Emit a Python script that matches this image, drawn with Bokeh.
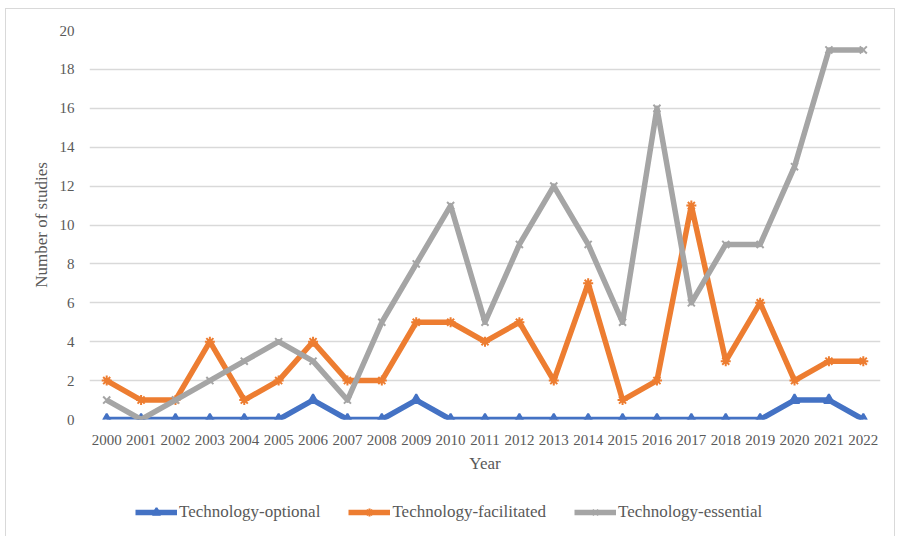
from bokeh.plotting import figure
from bokeh.layouts import column
from bokeh.models import FactorRange, Range1d, Legend, LegendItem, FixedTicker
from bokeh.embed import file_html
from bokeh.resources import INLINE

years = [str(y) for y in range(2000, 2023)]
optional = [0, 0, 0, 0, 0, 0, 1, 0, 0, 1, 0, 0, 0, 0, 0, 0, 0, 0, 0, 0, 1, 1, 0]
facilitated = [2, 1, 1, 4, 1, 2, 4, 2, 2, 5, 5, 4, 5, 2, 7, 1, 2, 11, 3, 6, 2, 3, 3]
essential = [1, 0, 1, 2, 3, 4, 3, 1, 5, 8, 11, 5, 9, 12, 9, 5, 16, 6, 9, 9, 13, 19, 19]
y_ticks = [0, 2, 4, 6, 8, 10, 12, 14, 16, 18, 20]

FONT = "Liberation Serif"
W = 888

p = figure(width=W, height=471, x_range=FactorRange(*years), y_range=Range1d(0, 20),
           output_backend="svg", toolbar_location=None,
           min_border_left=83, min_border_right=W - 874, min_border_top=21, min_border_bottom=61)
p.outline_line_color = None
p.xgrid.grid_line_color = None
p.ygrid.grid_line_color = "#d9d9d9"
p.ygrid.grid_line_width = 1.5

p.yaxis.ticker = FixedTicker(ticks=y_ticks)
for ax in (p.xaxis[0], p.yaxis[0]):
    ax.axis_line_color = None
    ax.major_tick_line_color = None
    ax.minor_tick_line_color = None
    ax.major_label_text_font = FONT
    ax.major_label_text_font_size = "15px"
    ax.major_label_text_color = "#595959"
    ax.axis_label_text_font = FONT
    ax.axis_label_text_font_size = "17px"
    ax.axis_label_text_font_style = "normal"
    ax.axis_label_text_color = "#595959"
p.xaxis.axis_label = "Year"
p.yaxis.axis_label = "Number of studies"
p.xaxis.major_label_standoff = 9
p.yaxis.major_label_standoff = 9
p.xaxis.axis_label_standoff = 6
p.yaxis.axis_label_standoff = 6

series = [
    (optional, "#4472C4", "triangle", "Technology-optional"),
    (facilitated, "#ED7D31", "asterisk", "Technology-facilitated"),
    (essential, "#A5A5A5", "x", "Technology-essential"),
]

# legend figure
q = figure(width=W, height=56, x_range=Range1d(0, 1), y_range=Range1d(0, 1),
           output_backend="svg", toolbar_location=None,
           min_border=0, min_border_left=0, min_border_right=0, min_border_top=0, min_border_bottom=0)
q.axis.visible = False
q.grid.visible = False
q.outline_line_color = None

items = []
for vals, color, marker, label in series:
    p.line(years, vals, line_color=color, line_width=5.5, line_join="round")
    p.scatter(years, vals, marker=marker, size=10, line_color=color, fill_color=color, line_width=2)
    l = q.line([5, 6], [5, 6], line_color=color, line_width=5.5)
    s = q.scatter([5], [5], marker=marker, size=10, line_color=color, fill_color=color, line_width=2)
    items.append(LegendItem(label=label, renderers=[l, s]))

legend = Legend(items=items, orientation="horizontal", location=(46, 14))
legend.label_text_font = FONT
legend.label_text_font_size = "17px"
legend.label_text_color = "#595959"
legend.glyph_width = 42
legend.label_standoff = 2
legend.spacing = 28
legend.padding = 0
legend.margin = 0
legend.border_line_color = None
legend.background_fill_alpha = 0
q.add_layout(legend)

layout = column(p, q, spacing=0)
layout.styles = {"border": "1px solid #d9d9d9", "margin-left": "5px", "margin-top": "8px"}

open("out.html", "w").write(file_html(layout, INLINE))
